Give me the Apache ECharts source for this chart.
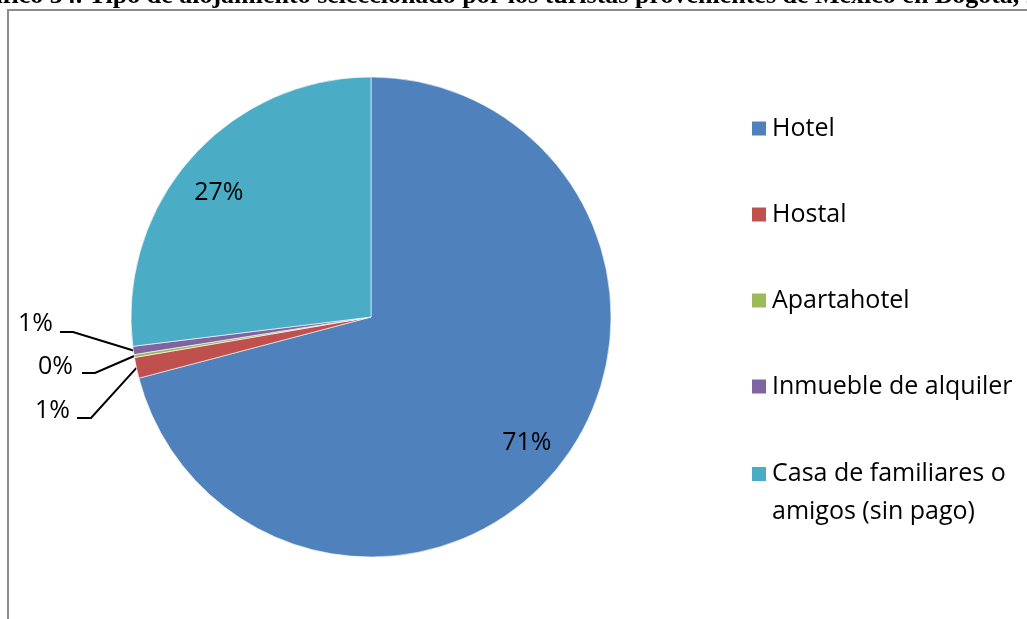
<!DOCTYPE html>
<html>
<head>
<meta charset="utf-8">
<script src="https://cdn.jsdelivr.net/npm/echarts@6/dist/echarts.min.js"></script>
<style>html,body{margin:0;padding:0;background:#fff}#c{width:1027px;height:619px}</style>
</head>
<body>
<div id="c"></div>
<script>
const titleText = 'Gráfico 34. Tipo de alojamiento seleccionado por los turistas provenientes de México en Bogotá, 2012';
const categories = ['Hotel', 'Hostal', 'Apartahotel', 'Inmueble de alquiler', 'Casa de familiares o amigos (sin pago)'];
const values = [70.9, 1.4, 0.2, 0.55, 26.95];
const colors = ['#4F81BD', '#C0504D', '#9BBB59', '#8064A2', '#4BACC6'];

const CX = 371, CY = 317, R = 240;
const total = values.reduce((a, b) => a + b, 0);
function midAngle(i) {
  let before = 0;
  for (let k = 0; k < i; k++) before += values[k];
  return (before + values[i] / 2) / total * Math.PI * 2;
}
function edgePoint(i) {
  const a = midAngle(i);
  return [CX + Math.sin(a) * R, CY - Math.cos(a) * R];
}
// outside label placement (label anchor, elbow, end of horizontal)
const outsideLabels = {
  1: { x: 70, y: 411, elbow: [91, 418], end: [77, 418] },
  2: { x: 73, y: 367, elbow: [95, 373], end: [82, 373] },
  3: { x: 53, y: 324, elbow: [73, 332], end: [60, 332] }
};
// small nudges of inside labels
const insideNudge = { 0: [-2, 4], 4: [-3, 8] };

const seriesData = categories.map((name, i) => {
  const item = { name: name, value: values[i], itemStyle: { color: colors[i] } };
  if (outsideLabels[i]) {
    item.label = { position: 'outside' };
    item.labelLine = { show: true };
  }
  return item;
});

const font = '"Open Sans", sans-serif';
const chart = echarts.init(document.getElementById('c'));
chart.setOption({
  animation: false,
  backgroundColor: '#fff',
  graphic: [
    { type: 'rect', shape: { x: 8, y: 10, width: 1200, height: 800 }, style: { fill: 'none', stroke: '#8c8c8c', lineWidth: 2 }, z: 0 },
    { type: 'text', x: -42, y: -4, style: { text: titleText, font: 'bold 26px "Liberation Serif"', fill: '#000', verticalAlign: 'middle', align: 'left' }, z: 1 }
  ],
  legend: [
    {
      orient: 'vertical', left: 750, top: 116, padding: 0,
      itemWidth: 16, itemHeight: 16, itemGap: 61,
      icon: 'rect',
      data: categories.slice(0, 4),
      textStyle: { fontFamily: font, fontSize: 25, lineHeight: 25, color: '#000' }
    },
    {
      orient: 'vertical', left: 750, top: 417, padding: 0,
      itemWidth: 16, itemHeight: 16,
      icon: 'rect',
      data: [categories[4]],
      formatter: name => '\n' + name.replace(' o ', ' o\n'),
      textStyle: { fontFamily: font, fontSize: 25, lineHeight: 38, color: '#000' }
    }
  ],
  series: [{
    type: 'pie',
    center: [CX, CY],
    radius: [0, R],
    startAngle: 90,
    clockwise: true,
    avoidLabelOverlap: false,
    itemStyle: { borderColor: '#fff', borderWidth: 0.6 },
    label: {
      show: true,
      position: 'inside',
      fontFamily: font,
      fontSize: 25,
      color: '#000',
      formatter: p => Math.round(p.value) + '%'
    },
    labelLine: { show: false, lineStyle: { color: '#000', width: 2 }, length: 10, length2: 10 },
    labelLayout: function (p) {
      const i = p.dataIndex;
      if (outsideLabels[i]) {
        const o = outsideLabels[i];
        return {
          x: o.x, y: o.y, align: 'right', verticalAlign: 'middle',
          labelLinePoints: [edgePoint(i), o.elbow, o.end]
        };
      }
      const a = midAngle(i);
      const n = insideNudge[i] || [0, 0];
      return {
        x: CX + Math.sin(a) * R * 0.83 + n[0],
        y: CY - Math.cos(a) * R * 0.83 + n[1],
        align: 'center', verticalAlign: 'middle'
      };
    },
    data: seriesData
  }]
});
</script>
</body>
</html>
